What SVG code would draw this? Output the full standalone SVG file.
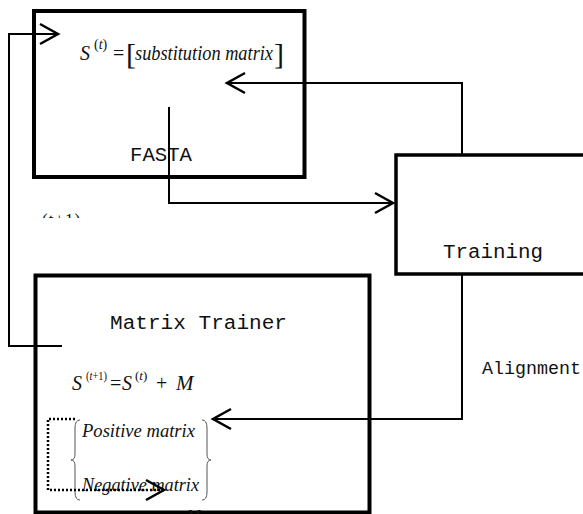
<svg xmlns="http://www.w3.org/2000/svg" width="583" height="514" viewBox="0 0 583 514">
  <style>
    .box { fill: none; stroke: #000; }
    .conn { fill: none; stroke: #000; stroke-width: 2; }
    .dot { fill: none; stroke: #000; stroke-width: 2.5; stroke-dasharray: 2 2; }
    .mono { font-family: "Liberation Mono", "Courier New", monospace; fill: #111; }
    .math { font-family: "Liberation Serif", "Times New Roman", serif; fill: #111; }
    .it { font-style: italic; }
    .brace { fill: none; stroke: #555; stroke-width: 1; }
  </style>
  <defs>
    <marker id="arr" viewBox="-20 -12 22 24" refX="0" refY="0" markerWidth="22" markerHeight="24" markerUnits="userSpaceOnUse" orient="auto" overflow="visible">
      <path d="M-18,-10 L0,0 L-18,10" fill="none" stroke="#000" stroke-width="2.5" stroke-dasharray="none"/>
    </marker>
    <clipPath id="cut">
      <rect x="30" y="211" width="70" height="7"/>
    </clipPath>
  </defs>
  <rect width="583" height="514" fill="#fff"/>

  <!-- FASTA block -->
  <g id="fasta">
    <rect class="box" x="34" y="11" width="270.5" height="166" stroke-width="4"/>
    <text class="math it" x="80" y="60" font-size="20">S</text>
    <text class="math" x="94" y="49" font-size="14">(<tspan font-style="italic">t</tspan>)</text>
    <text class="math" x="113" y="60" font-size="20">=</text>
    <text class="math" x="126" y="64" font-size="30">[</text>
    <text class="math it" x="135" y="60" font-size="20" textLength="138" lengthAdjust="spacingAndGlyphs">substitution matrix</text>
    <text class="math" x="274" y="64" font-size="30">]</text>
    <text class="mono" x="130" y="161" font-size="20" textLength="62" lengthAdjust="spacingAndGlyphs">FASTA</text>
  </g>

  <!-- partial label between blocks -->
  <g id="stray-label" clip-path="url(#cut)">
    <text class="math" x="42" y="225" font-size="17" fill="#777" letter-spacing="1">(t+1)</text>
  </g>

  <!-- Training block -->
  <g id="training">
    <rect class="box" x="396" y="155" width="200" height="119" stroke-width="3.5"/>
    <text class="mono" x="443" y="258" font-size="20" textLength="100" lengthAdjust="spacingAndGlyphs">Training</text>
  </g>

  <!-- Matrix Trainer block -->
  <g id="matrix-trainer">
    <rect class="box" x="35.5" y="275.5" width="334" height="237" stroke-width="4"/>
    <text class="mono" x="110" y="329" font-size="20" textLength="177" lengthAdjust="spacingAndGlyphs">Matrix Trainer</text>
    <text class="math it" x="72" y="390" font-size="20">S</text>
    <text class="math" x="86" y="380" font-size="13" textLength="21" lengthAdjust="spacingAndGlyphs">(<tspan font-style="italic">t</tspan>+1)</text>
    <text class="math" x="110" y="390" font-size="20">=</text>
    <text class="math it" x="122" y="390" font-size="20">S</text>
    <text class="math" x="135" y="380" font-size="13">(<tspan font-style="italic">t</tspan>)</text>
    <text class="math" x="156" y="390" font-size="20">+</text>
    <text class="math it" x="176" y="390" font-size="21">M</text>
    <path class="brace" d="M80,420 Q75,420 75,428 L75,454 Q75,460 71,460 Q75,460 75,466 L75,492 Q75,500 80,500"/>
    <path class="brace" d="M202,420 Q207,420 207,428 L207,454 Q207,460 211,460 Q207,460 207,466 L207,492 Q207,500 202,500"/>
    <text class="math it" x="82" y="437" font-size="19" textLength="113" lengthAdjust="spacingAndGlyphs">Positive matrix</text>
    <text class="math it" x="82" y="491" font-size="19" textLength="117" lengthAdjust="spacingAndGlyphs">Negative matrix</text>
    <text class="math it" x="187" y="521" font-size="16">M</text>
  </g>

  <!-- Alignment label -->
  <g id="alignment">
    <text class="mono" x="482" y="374" font-size="19" textLength="99" lengthAdjust="spacingAndGlyphs">Alignment</text>
  </g>

  <!-- connectors -->
  <g id="connectors">
    <path class="conn" d="M462,155 V83 H227" marker-end="url(#arr)"/>
    <path class="conn" d="M169,107 V203 H393" marker-end="url(#arr)"/>
    <path class="conn" d="M462,274 V419 H213" marker-end="url(#arr)"/>
    <path class="conn" d="M62,346 H9 V34 H58" marker-end="url(#arr)"/>
    <path class="dot" d="M75,419 H48 V490 H164" marker-end="url(#arr)"/>
  </g>
</svg>
